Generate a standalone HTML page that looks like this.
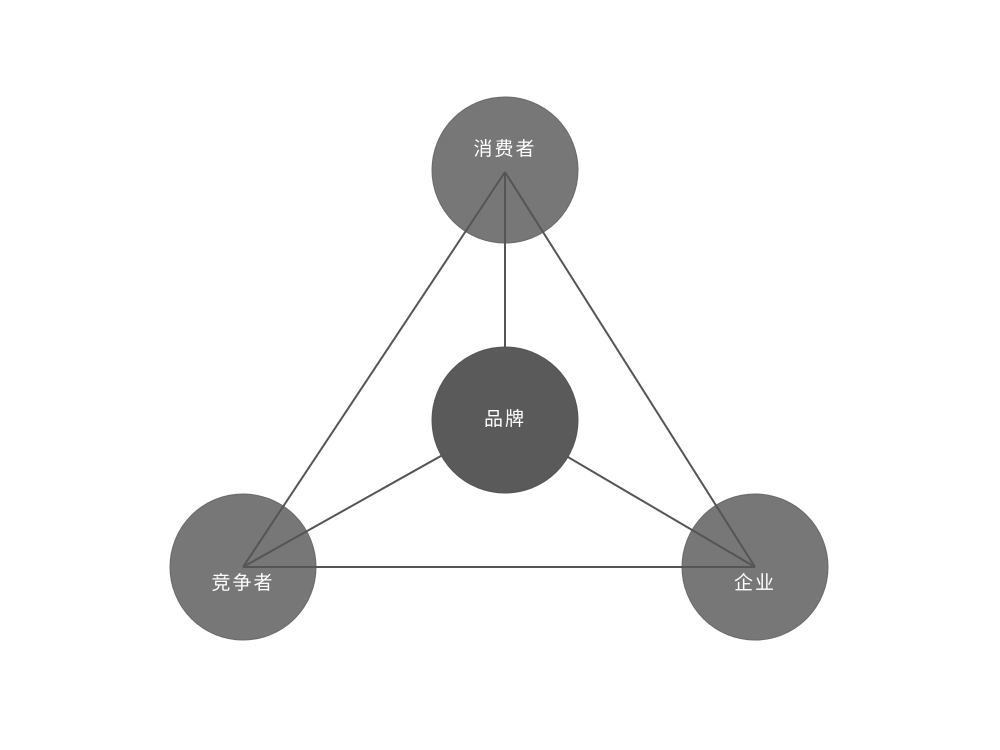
<!DOCTYPE html>
<html><head><meta charset="utf-8"><style>
html,body{margin:0;padding:0;background:#fff;width:1000px;height:750px;overflow:hidden}
</style></head><body>
<svg width="1000" height="750" viewBox="0 0 1000 750" xmlns="http://www.w3.org/2000/svg">
<g fill="#777" stroke="#6a6a6a" stroke-width="1">
<circle cx="505" cy="170" r="73"/>
<circle cx="243" cy="567" r="73"/>
<circle cx="755" cy="567" r="73"/>
</g>
<g stroke="#555" stroke-width="2" fill="none">
<line x1="505" y1="172" x2="243" y2="567"/>
<line x1="505" y1="172" x2="755" y2="567"/>
<line x1="505" y1="172" x2="505" y2="360"/>
<line x1="243" y1="567" x2="755" y2="567"/>
<line x1="243" y1="567" x2="505" y2="420"/>
<line x1="755" y1="567" x2="505" y2="420"/>
</g>
<circle cx="505" cy="420" r="73" fill="#5a5a5a" stroke="#555"/>
<g fill="#fff" font-family="Liberation Sans, Noto Sans CJK SC, sans-serif" font-size="19" text-anchor="middle">
<text x="505" y="155" letter-spacing="2">消费者</text>
<text x="505" y="425" letter-spacing="2">品牌</text>
<text x="243" y="589" letter-spacing="2">竞争者</text>
<text x="755" y="589" letter-spacing="2">企业</text>
</g>
</svg>
</body></html>
